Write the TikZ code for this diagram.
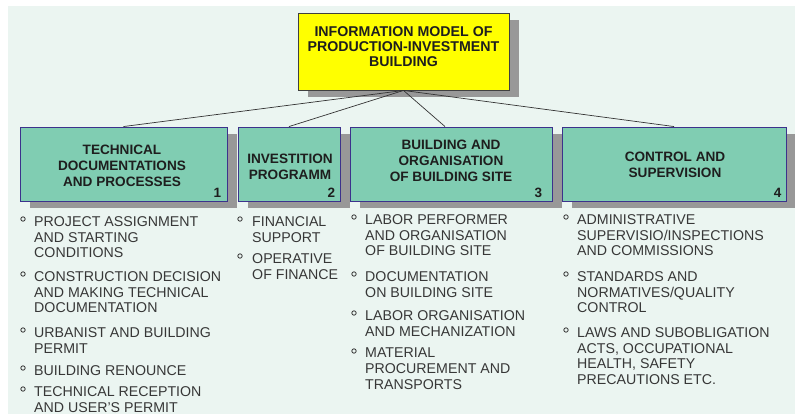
\documentclass[tikz,border=0pt]{standalone}
\usepackage{fontspec}
\setmainfont{Liberation Sans}
\usetikzlibrary{calc,shadows}
\definecolor{bgc}{RGB}{235,245,241}
\definecolor{boxfill}{RGB}{128,205,178}
\definecolor{boxline}{RGB}{60,50,140}
\definecolor{shadowc}{RGB}{152,152,152}
\definecolor{titlefill}{RGB}{255,255,0}
\definecolor{txt}{RGB}{30,30,30}
\definecolor{itemtxt}{RGB}{55,55,55}
\begin{document}
\begin{tikzpicture}[x=1pt,y=-1pt,
  shadowed/.style={drop shadow={shadow xshift=9.5pt,shadow yshift=-7pt,fill=shadowc,opacity=1}},
  catbox/.style={draw=boxline,line width=0.9pt,fill=boxfill,shadowed,inner sep=0pt},
  titlebox/.style={draw=black!75,line width=0.9pt,fill=titlefill,shadowed,inner sep=0pt,minimum width=211pt,minimum height=77pt},
  head/.style={font={\fontsize{13.6}{16}\selectfont\bfseries},text=txt,align=center,inner sep=0pt},
  num/.style={font={\fontsize{13.5}{16}\selectfont\bfseries},text=txt,inner sep=0pt,anchor=base east},
  item/.style={font={\fontsize{14.2}{15.9}\selectfont},text=itemtxt,align=left,inner sep=0pt,anchor=north west},
  bul/.style={circle,draw=itemtxt,line width=0.8pt,fill=bgc,inner sep=0pt,minimum size=4.4pt},
  conn/.style={draw=black!80,line width=0.7pt}]
\useasboundingbox (0,0) rectangle (795,414);
\fill[bgc] (8,6) rectangle (795,414);

% title
\node[titlebox] (t) at (403.5,51.5) {};
\node[head,font={\fontsize{14.2}{15}\selectfont\bfseries}] (ht) at (403.5,47) {INFORMATION MODEL OF\\PRODUCTION-INVESTMENT\\BUILDING};

% category boxes
\node[catbox,minimum width=207pt,minimum height=74pt] (b1) at (123.5,164) {};
\node[catbox,minimum width=102pt,minimum height=74pt] (b2) at (289,164) {};
\node[catbox,minimum width=202pt,minimum height=74pt] (b3) at (451,164) {};
\node[catbox,minimum width=224pt,minimum height=74pt] (b4) at (674,164) {};

\draw[conn] (t.south) -- (b1.north);
\draw[conn] (t.south) -- (b2.north);
\draw[conn] (t.south) -- ($(b3.north)+(-6,0)$) coordinate (b3in);
\draw[conn] (t.south) -- (b4.north);

\node[head] (h1) at (122,165.5) {TECHNICAL\\DOCUMENTATIONS\\AND PROCESSES};
\node[head] (h2) at (290,167) {INVESTITION\\PROGRAMM};
\node[head] (h3) at (451,161) {BUILDING AND\\ORGANISATION\\OF BUILDING SITE};
\node[head] (h4) at (675,165) {CONTROL AND\\SUPERVISION};

\node[num] (n1) at ($(b1.south east)+(-6,-4)$) {1};
\node[num] (n2) at ($(b2.south east)+(-5,-4)$) {2};
\node[num] (n3) at ($(b3.south east)+(-10,-4)$) {3};
\node[num] (n4) at ($(b4.south east)+(-5,-4)$) {4};

% column 1
\node[item] (i11) at (34,216) {PROJECT ASSIGNMENT\\AND STARTING\\CONDITIONS};
\node[item] (i12) at (34,271) {CONSTRUCTION DECISION\\AND MAKING TECHNICAL\\DOCUMENTATION};
\node[item] (i13) at (34,327) {URBANIST AND BUILDING\\PERMIT};
\node[item] (i14) at (34,365) {BUILDING RENOUNCE};
\node[item] (i15) at (34,386) {TECHNICAL RECEPTION\\AND USER{\char"0027}S PERMIT};
\foreach \y in {219,274,330,368,389} \node[bul] at (23,\y) {};

% column 2
\node[item] (i21) at (252,216) {FINANCIAL\\SUPPORT};
\node[item] (i22) at (252,253) {OPERATIVE\\OF FINANCE};
\foreach \y in {219,256} \node[bul] at (240,\y) {};

% column 3
\node[item] (i31) at (365,214) {LABOR PERFORMER\\AND ORGANISATION\\OF BUILDING SITE};
\node[item] (i32) at (365,271) {DOCUMENTATION\\ON BUILDING SITE};
\node[item] (i33) at (365,310) {LABOR ORGANISATION\\AND MECHANIZATION};
\node[item] (i34) at (365,348) {MATERIAL\\PROCUREMENT AND\\TRANSPORTS};
\foreach \y in {217,274,313,351} \node[bul] at (354,\y) {};

% column 4
\node[item] (i41) at (577,214) {ADMINISTRATIVE\\SUPERVISIO/INSPECTIONS\\AND COMMISSIONS};
\node[item] (i42) at (577,271) {STANDARDS AND\\NORMATIVES/QUALITY\\CONTROL};
\node[item] (i43) at (577,327) {LAWS AND SUBOBLIGATION\\ACTS, OCCUPATIONAL\\HEALTH, SAFETY\\PRECAUTIONS ETC.};
\foreach \y in {217,274,330} \node[bul] at (566,\y) {};
\end{tikzpicture}
\end{document}
